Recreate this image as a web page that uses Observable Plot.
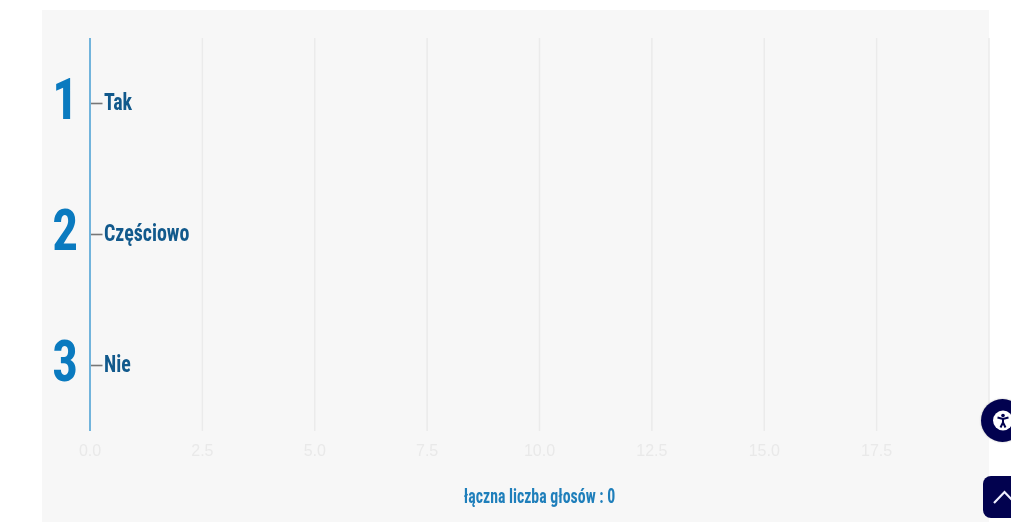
<!DOCTYPE html>
<html lang="pl">
<head>
<meta charset="utf-8">
<script src="https://cdn.jsdelivr.net/npm/d3@7"></script>
<script src="https://cdn.jsdelivr.net/npm/@observablehq/plot@0.6"></script>
<style>
html,body{margin:0;padding:0;background:#fff;width:1011px;height:522px;overflow:hidden}
#panel{position:absolute;left:42px;top:10px;width:947px;height:512px;background:#f7f7f7}
#chart{position:absolute;left:0;top:0;filter:blur(.5px)}
#chart svg{background:transparent!important;display:block}
#a11y{position:absolute;left:981px;top:399px;width:43px;height:43px;border-radius:50%;background:#02024f;box-shadow:0 0 2px rgba(0,0,0,.3);filter:blur(.4px)}
#up{position:absolute;left:983px;top:476px;width:50px;height:42px;border-radius:8px;background:#02024f;filter:blur(.4px)}
</style>
</head>
<body>
<div id="panel"></div>
<div id="chart"></div>
<div id="a11y"><svg width="43" height="43" viewBox="0 0 43 43"><circle cx="22" cy="21.5" r="10" fill="#fff"/><circle cx="22" cy="16.5" r="1.8" fill="#02024f"/><path d="M16.5 18.5l5.5 1.5 5.5-1.5M22 20v3.5M22 23.5l-2.5 5M22 23.5l2.5 5" stroke="#02024f" stroke-width="2" fill="none"/></svg></div>
<div id="up"><svg width="50" height="42" viewBox="0 0 50 42"><path d="M11 27l10.500-11 10.500 11" stroke="#eef" stroke-width="2.2" fill="none"/></svg></div>
<script>
const answers = ["Tak", "Częściowo", "Nie"];
const ranks = ["1", "2", "3"];
const votes = [0, 0, 0];
const gridTicks = [0, 2.5, 5, 7.5, 10, 12.5, 15, 17.5, 20];
const labelTicks = [0, 2.5, 5, 7.5, 10, 12.5, 15, 17.5];
const caption = "łączna liczba głosów : 0";
const rows = answers.map((a, i) => ({answer: a, rank: ranks[i], votes: votes[i]}));
const narrow = "'Roboto Condensed',Roboto,'Liberation Sans',sans-serif";

const chart = Plot.plot({
  width: 1011,
  height: 522,
  marginLeft: 89.5,
  marginRight: 22.5,
  marginTop: 38,
  marginBottom: 91,
  style: {background: "transparent", fontFamily: "'Liberation Sans',Arial,sans-serif"},
  x: {domain: [0, 20]},
  y: {domain: answers, padding: 0},
  marks: [
    Plot.gridX(gridTicks, {stroke: "#ebebeb", strokeOpacity: 1, strokeWidth: 1.5}),
    Plot.axisX(labelTicks, {
      tickSize: 0, tickPadding: 13, label: null, fontSize: 16, fill: "#e9e9e9",
      tickFormat: d => d.toFixed(1)
    }),
    Plot.barX(rows, {x: "votes", y: "answer", fill: "#0a7abf"}),
    Plot.axisY({
      tickSize: -13, tickPadding: 0, label: null, tickFormat: () => "",
      stroke: "#777", strokeWidth: 1.6, dy: -0.5
    }),
    Plot.ruleX([0], {stroke: "#72b4dc", strokeWidth: 2}),
    Plot.text(rows, {
      x: () => 0, y: "answer", text: "answer", dx: 14, dy: -2, textAnchor: "start",
      fontFamily: narrow, fontWeight: 700, fontSize: 24, fill: "#11598c", className: "squeeze-a"
    }),
    Plot.text(rows, {
      x: () => 0, y: "answer", text: "rank", dx: -12, dy: -4, textAnchor: "end",
      fontFamily: narrow, fontWeight: 700, fontSize: 58, fill: "#0a7abf", className: "squeeze-b"
    }),
    Plot.text([caption], {
      x: () => 10, frameAnchor: "bottom", dy: 71,
      fontFamily: narrow, fontWeight: 700, fontSize: 20, fill: "#1f7fbb", className: "squeeze-c"
    })
  ]
});
document.getElementById("chart").appendChild(chart);
// The reference face is narrower than any installed condensed font.
for (const [cls, k] of [["squeeze-a", 0.83], ["squeeze-b", 0.88], ["squeeze-c", 0.79]]) {
  chart.querySelectorAll(`.${cls} text`).forEach(t => {
    t.setAttribute("textLength", t.getComputedTextLength() * k);
    t.setAttribute("lengthAdjust", "spacingAndGlyphs");
  });
}
</script>
</body>
</html>
